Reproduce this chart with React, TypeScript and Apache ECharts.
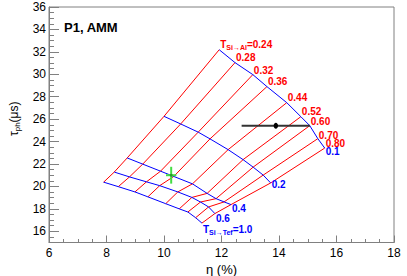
import React, { useEffect, useRef } from "react";
import * as echarts from "echarts";

// T_Si->Al values (red lines) and T_Si->Tef values (blue lines)
const tSiAlLabels = ["0.24", "0.28", "0.32", "0.36", "0.44", "0.52", "0.60", "0.70", "0.80"];
const tSiTefLabels = ["0.1", "0.2", "0.4", "0.6", "1.0"];

// grid nodes: eta (%) and tau_ph (us) for each T_Si->Tef, ordered by T_Si->Al
const etaTef01 = [11.92, 12.47, 13.09, 13.58, 14.27, 14.76, 15.07, 15.35, 15.59];
const tauTef01 = [32.19, 31.04, 29.97, 28.9, 27.47, 26.22, 25.42, 24.26, 23.42];
const etaTef02 = [10.0, 10.58, 11.19, 11.6, 12.23, 12.75, 13.1, 13.45, 13.71];
const tauTef02 = [26.25, 25.57, 24.84, 24.24, 23.28, 22.39, 21.72, 21.01, 20.31];
const etaTef04 = [8.72, 9.26, 9.88, 10.34, 10.99, 11.5, 11.81, 12.09, 12.33];
const tauTef04 = [22.54, 21.99, 21.36, 20.89, 20.23, 19.38, 18.91, 18.62, 18.38];
const etaTef06 = [8.27, 8.8, 9.39, 9.85, 10.48, 10.97, 11.27, 11.55, 11.77];
const tauTef06 = [21.28, 20.85, 20.41, 20.07, 19.51, 19.02, 18.61, 18.17, 17.58];
const etaTef10 = [7.9, 8.41, 8.99, 9.44, 10.06, 10.53, 10.83, 11.1, 11.32];
const tauTef10 = [20.38, 19.98, 19.51, 19.07, 18.46, 18.0, 17.72, 17.21, 16.73];

// measurements: [eta, tau, etaErr, tauErr]
const measuredBlack = [13.89, 25.42, 1.19, 0];
const simulatedGreen = [10.25, 21.0, 0.18, 0.75];

// axis ticks
const yMajorTicks = [16, 18, 20, 22, 24, 26, 28, 30, 32, 34, 36];
const yMinorTicks = [15, 15.5, 16.5, 17, 17.5, 18.5, 19, 19.5, 20.5, 21, 21.5, 22.5, 23, 23.5, 24.5, 25, 25.5, 26.5, 27, 27.5, 28.5, 29, 29.5, 30.5, 31, 31.5, 32.5, 33, 33.5, 34.5, 35, 35.5];

const FONT = '"Liberation Sans", Arial, Helvetica, sans-serif';
const RED = "#ff0000";
const BLUE = "#0000ff";
const GRAY = "#808080";

const etaRows = [etaTef01, etaTef02, etaTef04, etaTef06, etaTef10];
const tauRows = [tauTef01, tauTef02, tauTef04, tauTef06, tauTef10];
const redLabelDy = [-5, -5, -4.5, -5, -5, -5, -4.5, -3.5, -4.5];
const blueLabelDy = [3, 2, 4, 5, 6];

export default function App() {
  const ref = useRef<HTMLDivElement>(null);
  useEffect(() => {
    if (!ref.current) return;
    const chart = echarts.init(ref.current, undefined, { renderer: "svg" });

    const redSeries = tSiAlLabels.map((lab, j) => ({
      type: "line",
      name: "Al " + lab,
      data: etaRows.map((row, i) => [row[j], tauRows[i][j]]),
      showSymbol: false,
      symbol: "none",
      silent: true,
      lineStyle: { color: RED, width: 1 },
      z: 2,
    }));
    const blueSeries = tSiTefLabels.map((lab, i) => ({
      type: "line",
      name: "Tef " + lab,
      data: etaRows[i].map((x, j) => [x, tauRows[i][j]]),
      showSymbol: false,
      symbol: "none",
      silent: true,
      lineStyle: { color: BLUE, width: 1 },
      z: 3,
    }));

    const richSub = (color: string) => ({
      m: { font: `bold 10px ${FONT}`, fill: color, lineHeight: 13 },
      s: { font: `bold 7px ${FONT}`, fill: color, verticalAlign: "bottom" },
    });

    const redLabelSeries = {
      type: "custom",
      silent: true,
      z: 5,
      data: tSiAlLabels.map((_, j) => [etaTef01[j], tauTef01[j], j]),
      encode: { x: 0, y: 1 },
      renderItem: (_p: any, api: any) => {
        const j = api.value(2);
        const c = api.coord([api.value(0), api.value(1)]);
        const text = j === 0 ? `{m|T}{s|Si→Al}{m|=${tSiAlLabels[0]}}` : `{m|${tSiAlLabels[j]}}`;
        return {
          type: "text",
          x: c[0] + 1,
          y: c[1] + redLabelDy[j],
          style: { text, rich: richSub(RED), fill: RED, font: `bold 10px ${FONT}`, align: "left", verticalAlign: "middle" },
        };
      },
    };
    const blueLabelSeries = {
      type: "custom",
      silent: true,
      z: 5,
      data: tSiTefLabels.map((_, i) => [etaRows[i][8], tauRows[i][8], i]),
      encode: { x: 0, y: 1 },
      renderItem: (_p: any, api: any) => {
        const i = api.value(2);
        const c = api.coord([api.value(0), api.value(1)]);
        const text = i === 4 ? `{m|T}{s|Si→Tef}{m|=${tSiTefLabels[4]}}` : `{m|${tSiTefLabels[i]}}`;
        return {
          type: "text",
          x: c[0] + 1,
          y: c[1] + blueLabelDy[i],
          style: { text, rich: richSub(BLUE), fill: BLUE, font: `bold 10px ${FONT}`, align: "left", verticalAlign: "middle" },
        };
      },
    };

    const errSeries = (d: number[], color: string, width: number, marker: "ellipse" | "dot") => ({
      type: "custom",
      silent: true,
      z: 6,
      data: [d],
      encode: { x: 0, y: 1 },
      renderItem: (_p: any, api: any) => {
        const x = api.value(0), y = api.value(1), ex = api.value(2), ey = api.value(3);
        const c = api.coord([x, y]);
        const l = api.coord([x - ex, y]);
        const r = api.coord([x + ex, y]);
        const t = api.coord([x, y + ey]);
        const b = api.coord([x, y - ey]);
        const children: any[] = [
          { type: "line", shape: { x1: l[0], y1: l[1], x2: r[0], y2: r[1] }, style: { stroke: color, lineWidth: width } },
        ];
        if (ey > 0) {
          children.push({ type: "line", shape: { x1: t[0], y1: t[1], x2: b[0], y2: b[1] }, style: { stroke: color, lineWidth: width } });
        }
        if (marker === "ellipse") {
          children.push({ type: "ellipse", shape: { cx: c[0], cy: c[1], rx: 2.2, ry: 3 }, style: { fill: "#000" } });
        } else {
          children.push({ type: "circle", shape: { cx: c[0], cy: c[1], r: 1.5 }, style: { fill: "#2a9a2a" } });
        }
        return { type: "group", children };
      },
    });

    chart.setOption({
      animation: false,
      backgroundColor: "#fff",
      grid: {
        left: 49,
        right: 13,
        top: 7,
        bottom: 33.5,
        show: true,
        borderColor: GRAY,
        borderWidth: 1,
        containLabel: false,
        outerBoundsMode: "none",
      },
      xAxis: {
        type: "value",
        min: 6,
        max: 18,
        interval: 2,
        axisLine: { show: true, lineStyle: { color: GRAY, width: 1 } },
        axisTick: { show: true, inside: true, length: 7, lineStyle: { color: GRAY } },
        minorTick: { show: true, splitNumber: 4, length: 3.5, lineStyle: { color: GRAY } },
        splitLine: { show: false },
        axisLabel: { fontSize: 12, color: "#000", margin: 4, fontFamily: FONT, showMinLabel: true, showMaxLabel: true },
        name: "η (%)",
        nameLocation: "middle",
        nameGap: 15,
        nameTextStyle: { fontSize: 13, color: "#000", fontFamily: FONT },
      },
      yAxis: [
        {
          type: "value",
          min: 15,
          max: 36,
          position: "left",
          axisLine: { show: true, lineStyle: { color: GRAY, width: 1 } },
          axisTick: { show: true, inside: true, length: 10, customValues: yMajorTicks, lineStyle: { color: GRAY } },
          axisLabel: { customValues: yMajorTicks, fontSize: 12, color: "#000", margin: 3, fontFamily: FONT },
          splitLine: { show: false },
          name: "τ{s|ph}(μs)",
          nameLocation: "middle",
          nameRotate: 90,
          nameGap: 26,
          nameTextStyle: {
            fontSize: 12,
            color: "#000",
            fontFamily: FONT,
            lineHeight: 15,
            padding: [0, 0, 0, 12],
            rich: { s: { fontSize: 8, color: "#000", fontFamily: FONT, verticalAlign: "bottom" } },
          },
        },
        {
          type: "value",
          min: 15,
          max: 36,
          position: "left",
          axisLine: { show: false },
          axisTick: { show: true, inside: true, length: 5, customValues: yMinorTicks, lineStyle: { color: GRAY } },
          axisLabel: { show: false },
          splitLine: { show: false },
        },
      ],
      graphic: [
        {
          type: "text",
          x: 64,
          y: 27,
          style: { text: "P1, AMM", font: `bold 13px ${FONT}`, fill: "#000", verticalAlign: "middle" },
          z: 10,
        },
      ],
      series: [
        ...redSeries,
        ...blueSeries,
        redLabelSeries,
        blueLabelSeries,
        errSeries(measuredBlack, "#333333", 2, "ellipse"),
        errSeries(simulatedGreen, "#44dd44", 2, "dot"),
      ],
    } as any);
    return () => chart.dispose();
  }, []);
  return <div ref={ref} style={{ position: "fixed", left: 0, top: 0, width: 407, height: 276, background: "#fff" }} />;
}
